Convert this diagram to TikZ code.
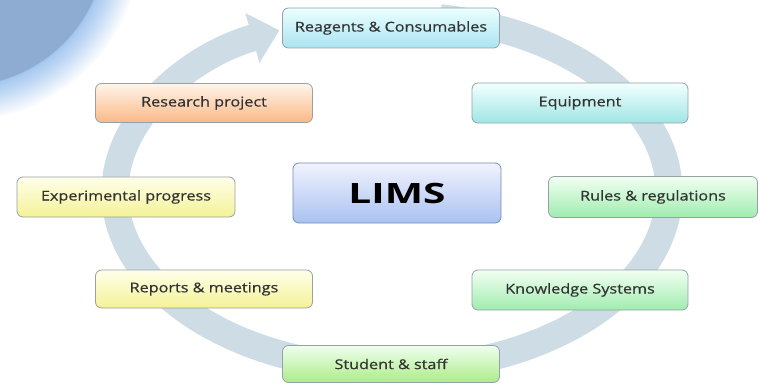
\documentclass[tikz,border=0pt]{standalone}
\usepackage{fontspec}
\setmainfont{Open Sans}
\newfontfamily\boxfont[FakeStretch=1.2,FakeBold=0.6]{Open Sans}
\newfontfamily\hubfont[FakeStretch=1.45]{Open Sans}
\usetikzlibrary{calc,arrows.meta,positioning}

\definecolor{ringblue}{RGB}{206,221,229}
\definecolor{circfill}{RGB}{142,172,210}
\definecolor{glowblue}{RGB}{165,200,240}
\definecolor{edgegray}{RGB}{150,160,165}
\pgfdeclareradialshading{halo}{\pgfpoint{0bp}{0bp}}{color(0bp)=(circfill); color(20bp)=(circfill); color(20.1bp)=(glowblue); color(21.5bp)=(glowblue!75); color(25bp)=(white); color(50bp)=(white)}

\tikzset{
  stage/.style={draw=edgegray, line width=0.8pt, rounded corners=6pt,
    minimum width=217pt, minimum height=40pt, font=\boxfont\fontsize{13.5}{15}\selectfont,
    text=black!80},
  cyanbox/.style={stage, top color=cyan!8, bottom color={rgb,255:red,170;green,228;blue,242}},
  tealbox/.style={stage, top color=cyan!5, bottom color={rgb,255:red,160;green,230;blue,228}},
  greenbox/.style={stage, top color=green!5, bottom color={rgb,255:red,160;green,236;blue,175}},
  limebox/.style={stage, top color=green!6, bottom color={rgb,255:red,172;green,236;blue,135}},
  yellowbox/.style={stage, top color=yellow!8, bottom color={rgb,255:red,244;green,242;blue,150}},
  orangebox/.style={stage, top color=orange!8, bottom color={rgb,255:red,250;green,185;blue,135}},
  ring/.style={ringblue, line width=27pt}
}

\begin{document}
\begin{tikzpicture}[x=1pt,y=-1pt]
  \useasboundingbox (0,0) rectangle (758,385);
  % corner disc
  \begin{scope}
    \clip (0,0) rectangle (758,385);
    \shade[shading=halo] (-40,-60) circle (182);
  \end{scope}

  % cycle ring
  \coordinate (hub) at (392,192);
  \draw[ring, -{Triangle[width=50pt,length=28pt]}]
    ($(hub)+(-80:277 and 177)$) arc[start angle=-80, end angle=246, x radius=277, y radius=177];

  \node[cyanbox] (reagents) at (391,28) {Reagents \& Consumables};
  \node[tealbox, minimum width=216pt] (equip) at (580,103) {Equipment};
  \node[orangebox, minimum height=39pt] (research) at (204,103) {Research project};
  \node[stage, top color=blue!5, bottom color={rgb,255:red,168;green,194;blue,240},
        draw={rgb,255:red,115;green,140;blue,180}, minimum width=208pt, minimum height=60pt,
        font=\hubfont\fontsize{28}{30}\selectfont\bfseries, text=black] (lims) at (397,193) {LIMS};
  \node[yellowbox, minimum width=218pt] (exper) at (126,197) {Experimental progress};
  \node[greenbox, minimum width=209pt, minimum height=41pt] (rules) at (653,197) {Rules \& regulations};
  \node[yellowbox, minimum height=38pt] (reports) at (204,289) {Reports \& meetings};
  \node[greenbox, minimum width=216pt] (knowledge) at (580,290) {Knowledge Systems};
  \node[limebox, minimum height=37pt] (student) at (391,364) {Student \& staff};
\end{tikzpicture}
\end{document}
